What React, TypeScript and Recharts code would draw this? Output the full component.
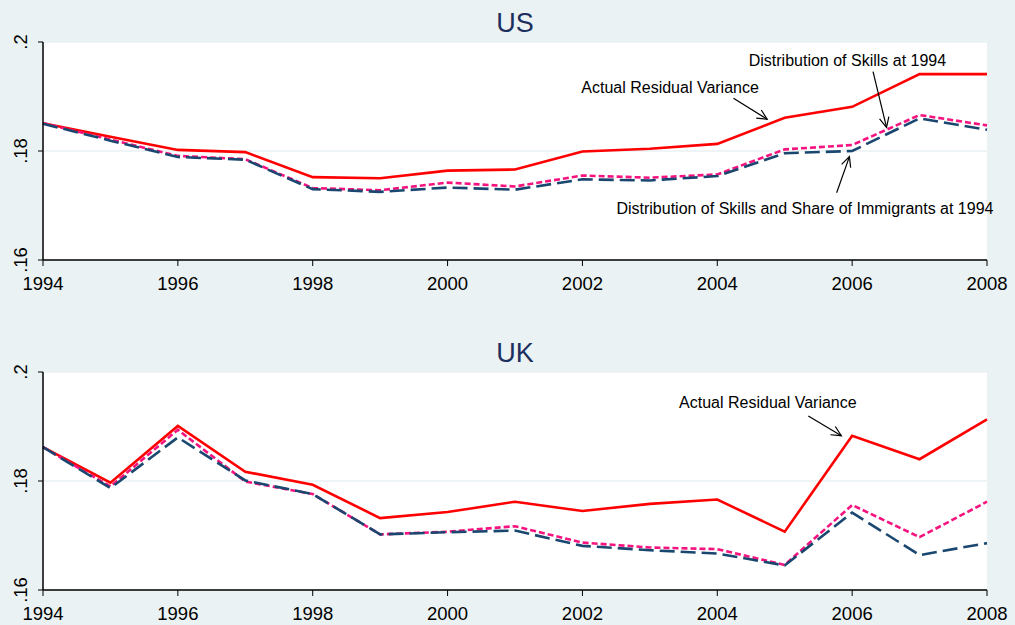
import {
	CartesianGrid,
	Line,
	LineChart,
	ReferenceDot,
	ReferenceLine,
	XAxis,
	YAxis,
} from "recharts";

const years = [1994, 1995, 1996, 1997, 1998, 1999, 2000, 2001, 2002, 2003, 2004, 2005, 2006, 2007, 2008];
const xTicks = [1994, 1996, 1998, 2000, 2002, 2004, 2006, 2008];
const yTicks = [0.16, 0.18, 0.2];

const usActual = [0.1851, 0.1826, 0.1802, 0.1798, 0.1752, 0.175, 0.1764, 0.1766, 0.1799, 0.1804, 0.1813, 0.1861, 0.1881, 0.1941, 0.1941];
const usSkills = [0.1851, 0.1821, 0.1791, 0.1785, 0.1732, 0.1728, 0.1742, 0.1735, 0.1755, 0.1751, 0.1757, 0.1803, 0.1811, 0.1866, 0.1847];
const usSkillsShare = [0.185, 0.1819, 0.1789, 0.1784, 0.173, 0.1725, 0.1733, 0.1729, 0.1748, 0.1746, 0.1754, 0.1796, 0.18, 0.186, 0.1839];

const ukActual = [0.1862, 0.1797, 0.1901, 0.1817, 0.1793, 0.1732, 0.1743, 0.1762, 0.1745, 0.1758, 0.1766, 0.1707, 0.1883, 0.184, 0.1913];
const ukSkills = [0.1862, 0.179, 0.1894, 0.1799, 0.1776, 0.1702, 0.1707, 0.1717, 0.1687, 0.1678, 0.1675, 0.1646, 0.1756, 0.1697, 0.1762];
const ukSkillsShare = [0.1862, 0.1787, 0.188, 0.1801, 0.1776, 0.1702, 0.1706, 0.1709, 0.1681, 0.1673, 0.1667, 0.1645, 0.1742, 0.1664, 0.1686];

// labels anchored in data coordinates: text baseline centre, arrow from -> to
const usNotes = [
	{ text: "Actual Residual Variance", x: 2003.3, y: 0.1906, from: [2004.24, 0.18967], to: [2004.74, 0.18582] },
	{ text: "Distribution of Skills at 1994", x: 2005.93, y: 0.1956, from: [2006.31, 0.19455], to: [2006.51, 0.18435] },
	{ text: "Distribution of Skills and Share of Immigrants at 1994", x: 2005.3, y: 0.16844, from: [2005.77, 0.17235], to: [2005.96, 0.17896] },
];
const ukNotes = [
	{ text: "Actual Residual Variance", x: 2004.75, y: 0.19334, from: [2005.35, 0.19193], to: [2005.84, 0.18831] },
];

const BG = "#EAF2F3";
const FONT = "'Liberation Sans', Arial, sans-serif";

const toRows = (a: number[], b: number[], c: number[]) =>
	years.map((year, i) => ({ year, actual: a[i], skills: b[i], skillsShare: c[i] }));

const fmt = (v: number) => String(v).replace(/^0/, "");

function YTick(props: any) {
	const { x, y, payload } = props;
	return (
		<text x={x} y={y} transform={`rotate(-90 ${x} ${y})`} textAnchor="middle" fontSize={18.5} fill="#000">
			{fmt(payload.value)}
		</text>
	);
}

function Arrow(props: any) {
	const { x1, y1, x2, y2 } = props;
	if (x1 == null) return null;
	const ang = Math.atan2(y2 - y1, x2 - x1);
	const len = 11;
	const spread = 0.45;
	const a1 = [x2 - len * Math.cos(ang - spread), y2 - len * Math.sin(ang - spread)];
	const a2 = [x2 - len * Math.cos(ang + spread), y2 - len * Math.sin(ang + spread)];
	return (
		<g stroke="#000" strokeWidth={1.2} fill="none">
			<line x1={x1} y1={y1} x2={x2} y2={y2} />
			<polyline points={`${a1[0]},${a1[1]} ${x2},${y2} ${a2[0]},${a2[1]}`} />
		</g>
	);
}

type Note = { text: string; x: number; y: number; from: number[]; to: number[] };

function Panel({ title, data, notes, top }: { title: string; data: any[]; notes: Note[]; top: number }) {
	return (
		<div style={{ position: "absolute", left: 0, top, width: 1015, height: 295 }}>
			<div
				style={{
					position: "absolute",
					left: 0,
					width: 1030,
					top: 10,
					textAlign: "center",
					fontSize: 27,
					lineHeight: "27px",
					color: "#1c2f5e",
				}}
			>
				{title}
			</div>
			<LineChart width={1015} height={295} data={data} margin={{ top: 42, right: 28, left: 13, bottom: 5 }}>
				<CartesianGrid vertical={false} fill="#fff" stroke={BG} strokeWidth={1.5} />
				<XAxis
					dataKey="year"
					type="number"
					domain={[1994, 2008]}
					ticks={xTicks}
					height={30}
					tickSize={6}
					tickMargin={11}
					axisLine={{ stroke: "#000", strokeWidth: 1.5 }}
					tickLine={{ stroke: "#000" }}
					tick={{ fontSize: 18.5, fill: "#000" }}
				/>
				<YAxis
					type="number"
					domain={[0.16, 0.2]}
					ticks={yTicks}
					width={30}
					tickSize={5}
					tickMargin={11}
					axisLine={{ stroke: "#000", strokeWidth: 1.5 }}
					tickLine={{ stroke: "#000" }}
					tick={<YTick />}
				/>
				<Line type="linear" dataKey="actual" stroke="#FF0000" strokeWidth={2.6} dot={false} isAnimationActive={false} />
				<Line type="linear" dataKey="skills" stroke="#F5137F" strokeWidth={2.6} strokeDasharray="6 3" dot={false} isAnimationActive={false} />
				<Line type="linear" dataKey="skillsShare" stroke="#1A476F" strokeWidth={2.6} strokeDasharray="15 6" dot={false} isAnimationActive={false} />
				{notes.map((n) => (
					<ReferenceLine
						key={`a-${n.text}`}
						segment={[
							{ x: n.from[0], y: n.from[1] },
							{ x: n.to[0], y: n.to[1] },
						]}
						ifOverflow="visible"
						shape={(p: any) => <Arrow {...p} />}
					/>
				))}
				{notes.map((n) => (
					<ReferenceDot
						key={`t-${n.text}`}
						x={n.x}
						y={n.y}
						ifOverflow="visible"
						shape={(p: any) => (
							<text x={p.cx} y={p.cy} textAnchor="middle" fontSize={16} fill="#000">
								{n.text}
							</text>
						)}
					/>
				))}
			</LineChart>
		</div>
	);
}

export default function App() {
	return (
		<div
			style={{
				position: "absolute",
				left: 0,
				top: 0,
				width: 1015,
				height: 625,
				background: BG,
				fontFamily: FONT,
				overflow: "hidden",
			}}
		>
			<Panel title="US" data={toRows(usActual, usSkills, usSkillsShare)} notes={usNotes} top={0} />
			<Panel title="UK" data={toRows(ukActual, ukSkills, ukSkillsShare)} notes={ukNotes} top={330} />
		</div>
	);
}
